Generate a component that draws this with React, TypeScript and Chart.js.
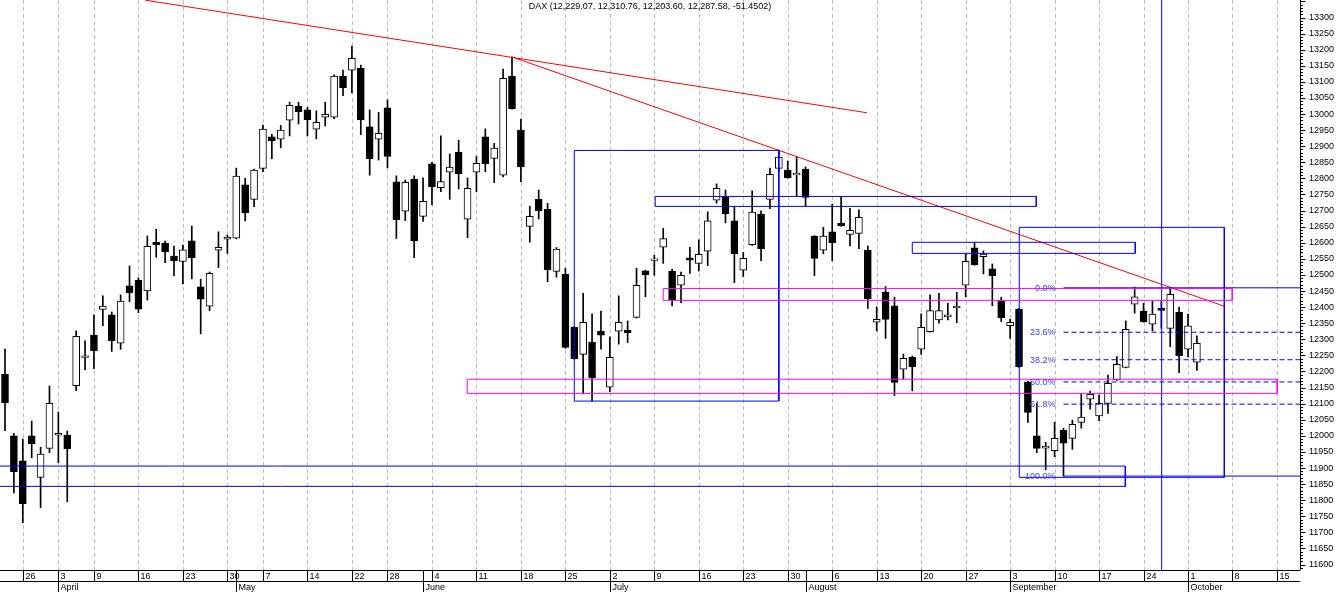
import React, { useEffect, useRef } from 'react';
import { Chart, registerables } from 'chart.js';

Chart.register(...registerables);

const titleText = 'DAX (12,229.07, 12,310.76, 12,203.60, 12,287.58, -51.4502)';

// Daily candles, trading days from 22 March 2018 (index 0) to 2 October 2018 (index 134)
const opens = [
  12191, 12000, 11922, 12000, 11871, 11961, 12002, 12002, 12156, 12244,
  12313, 12393, 12376, 12288, 12466, 12484, 12450, 12601, 12599, 12559,
  12542, 12606, 12463, 12403, 12577, 12611, 12614, 12780, 12735, 12831,
  12929, 12922, 12981, 13025, 13013, 12953, 12990, 12990, 13117, 13136,
  13142, 12960, 12922, 13019, 12789, 12698, 12797, 12682, 12845, 12771,
  12819, 12882, 12673, 12819, 12929, 12862, 12810, 13118, 12950, 12651,
  12735, 12704, 12511, 12502, 12338, 12253, 12291, 12325, 12151, 12325,
  12329, 12368, 12513, 12545, 12586, 12512, 12468, 12553, 12536, 12574,
  12732, 12743, 12668, 12515, 12594, 12689, 12735, 12831, 12826, 12811,
  12829, 12621, 12577, 12634, 12661, 12626, 12629, 12577, 12353, 12447,
  12404, 12207, 12244, 12269, 12324, 12360, 12370, 12398, 12468, 12584,
  12557, 12519, 12420, 12342, 12394, 12166, 12000, 11962, 11954, 12018,
  11992, 12042, 12114, 12062, 12101, 12174, 12213, 12409, 12388, 12347,
  12396, 12334, 12384, 12269, 12229.07,
];
const highs = [
  12270, 12008, 11990, 12046, 11965, 12155, 12074, 12015, 12326, 12295,
  12376, 12435, 12385, 12438, 12528, 12491, 12621, 12642, 12605, 12590,
  12593, 12652, 12487, 12509, 12634, 12624, 12832, 12800, 12829, 12966,
  12937, 12965, 13037, 13037, 13021, 13010, 13037, 13122, 13137, 13211,
  13152, 13013, 13005, 13044, 12808, 12795, 12808, 12802, 12850, 12932,
  12876, 12919, 12801, 12868, 12954, 12909, 13140, 13178, 12984, 12714,
  12764, 12723, 12585, 12521, 12340, 12443, 12379, 12388, 12308, 12435,
  12357, 12521, 12515, 12561, 12645, 12518, 12509, 12586, 12609, 12696,
  12783, 12764, 12712, 12570, 12761, 12699, 12832, 12888, 12854, 12868,
  12836, 12622, 12648, 12720, 12743, 12707, 12702, 12590, 12401, 12464,
  12431, 12254, 12248, 12379, 12438, 12443, 12412, 12446, 12565, 12600,
  12575, 12534, 12431, 12362, 12396, 12170, 12101, 11980, 12042, 12024,
  12049, 12132, 12139, 12127, 12189, 12246, 12357, 12462, 12412, 12419,
  12420, 12460, 12400, 12378, 12310.76,
];
const lows = [
  12016, 11823, 11730, 11932, 11777, 11948, 11917, 11795, 12140, 12206,
  12209, 12342, 12262, 12269, 12417, 12383, 12422, 12555, 12538, 12498,
  12472, 12488, 12317, 12389, 12523, 12567, 12612, 12668, 12712, 12821,
  12861, 12895, 12932, 12969, 12932, 12923, 12963, 12986, 13057, 13066,
  12936, 12810, 12857, 12833, 12613, 12669, 12554, 12666, 12718, 12759,
  12735, 12767, 12616, 12759, 12821, 12787, 12805, 13015, 12790, 12602,
  12674, 12479, 12493, 12272, 12238, 12130, 12108, 12269, 12137, 12285,
  12290, 12366, 12432, 12499, 12536, 12404, 12414, 12505, 12512, 12529,
  12723, 12662, 12476, 12495, 12592, 12544, 12706, 12821, 12800, 12745,
  12714, 12498, 12566, 12544, 12651, 12590, 12582, 12396, 12326, 12303,
  12125, 12176, 12140, 12253, 12322, 12350, 12360, 12352, 12432, 12530,
  12503, 12404, 12355, 12303, 12213, 12042, 11948, 11894, 11935, 11875,
  11958, 12024, 12083, 12047, 12070, 12172, 12211, 12381, 12353, 12326,
  12334, 12277, 12196, 12246, 12203.6,
];
const closes = [
  12103, 11889, 11789, 11976, 11943, 12101, 12008, 11960, 12309, 12249,
  12265, 12403, 12296, 12419, 12445, 12394, 12589, 12594, 12572, 12544,
  12578, 12554, 12425, 12505, 12586, 12618, 12807, 12693, 12826, 12953,
  12917, 12950, 13027, 13007, 12982, 12974, 12999, 13118, 13082, 13173,
  12982, 12861, 12940, 12868, 12672, 12788, 12606, 12729, 12774, 12790,
  12835, 12815, 12769, 12847, 12846, 12894, 13111, 13017, 12836, 12682,
  12700, 12516, 12580, 12275, 12240, 12353, 12181, 12313, 12244, 12353,
  12321, 12468, 12501, 12550, 12613, 12422, 12499, 12546, 12564, 12668,
  12769, 12690, 12566, 12552, 12695, 12582, 12813, 12866, 12802, 12816,
  12741, 12551, 12621, 12600, 12653, 12639, 12679, 12426, 12362, 12362,
  12166, 12241, 12215, 12337, 12389, 12389, 12376, 12403, 12542, 12532,
  12565, 12498, 12367, 12353, 12215, 12073, 11961, 11968, 11992, 11977,
  12036, 12058, 12129, 12101, 12163, 12222, 12331, 12432, 12355, 12378,
  12390, 12440, 12249, 12342, 12287.58,
];

// Axis labels
const weekTickIndex = [2, 6, 10, 15, 20, 25, 29, 34, 39, 43, 48, 53, 58, 63, 68, 73, 78, 83, 88, 93, 98, 103, 108, 113, 118, 123, 128, 133, 138, 143];
const weekTickLabels = ['26', '3', '9', '16', '23', '30', '7', '14', '22', '28', '4', '11', '18', '25', '2', '9', '16', '23', '30', '6', '13', '20', '27', '3', '10', '17', '24', '1', '8', '15'];
const monthStartIndex = [6, 26, 47, 68, 90, 113, 133];
const monthLabels = ['April', 'May', 'June', 'July', 'August', 'September', 'October'];
const yTickValues = [
  11600, 11650, 11700, 11750, 11800, 11850, 11900, 11950, 12000, 12050, 12100, 12150,
  12200, 12250, 12300, 12350, 12400, 12450, 12500, 12550, 12600, 12650, 12700, 12750,
  12800, 12850, 12900, 12950, 13000, 13050, 13100, 13150, 13200, 13250, 13300,
];

// Drawing objects (index, price)
const redLine1 = [[15.74, 13354], [96.9, 13004]];
const redLine2 = [[57.15, 13176], [137.05, 12403]];
const blueBoxesX0 = [64, 73.1, 102, 114.03, -3];
const blueBoxesX1 = [87, 115.94, 127.07, 137.08, 125.95];
const blueBoxesLo = [12108, 12713, 12567, 11871, 11843];
const blueBoxesHi = [12887, 12744, 12601.5, 12648, 11906];
const magentaBoxesX0 = [74, 51.97];
const magentaBoxesX1 = [137.97, 143.03];
const magentaBoxesLo = [12421, 12132];
const magentaBoxesHi = [12458, 12176];
const cursorIndex = 130.04;
const fibStartIndex = 119;
const fibEndIndex = 160;
const fibHigh = 12460;
const fibLow = 11875;
const fibRatios = [0, 0.236, 0.382, 0.5, 0.618, 1];
const fibLabels = ['0.0%', '23.6%', '38.2%', '50.0%', '61.8%', '100.0%'];

const FONT = "'Liberation Sans', Arial, sans-serif";

function boxData(x0: number, x1: number, lo: number, hi: number) {
  return [
    { x: x0, y: lo },
    { x: x0, y: hi },
    { x: x1, y: hi },
    { x: x1, y: lo },
    { x: x0, y: lo },
  ];
}

function lineDs(data: any[], color: string, dash: number[] = []) {
  return {
    type: 'line' as const,
    data,
    borderColor: color,
    borderWidth: 1,
    borderDash: dash,
    pointRadius: 0,
    fill: false,
    tension: 0,
    order: 0,
  };
}

const decorPlugin = {
  id: 'decor',
  beforeDatasetsDraw(chart: any) {
    const { ctx, chartArea, scales } = chart;
    const xs = scales.x;
    ctx.save();
    ctx.strokeStyle = '#bdbdbd';
    ctx.lineWidth = 1;
    ctx.setLineDash([4, 3]);
    weekTickIndex.forEach((i) => {
      const x = Math.round(xs.getPixelForValue(i)) + 0.5;
      ctx.beginPath();
      ctx.moveTo(x, chartArea.top);
      ctx.lineTo(x, chartArea.bottom);
      ctx.stroke();
    });
    ctx.restore();
  },
  afterDatasetsDraw(chart: any) {
    const { ctx, chartArea, scales } = chart;
    const xs = scales.x;
    const ys = scales.y;
    ctx.save();
    // fib labels
    ctx.font = `9px ${FONT}`;
    ctx.fillStyle = '#3c3cff';
    ctx.textAlign = 'right';
    ctx.textBaseline = 'middle';
    const fx = xs.getPixelForValue(fibStartIndex) - 8;
    fibRatios.forEach((r, k) => {
      const v = fibHigh - r * (fibHigh - fibLow);
      ctx.fillText(fibLabels[k], fx, ys.getPixelForValue(v) + 0.5);
    });
    // title
    ctx.fillStyle = '#000';
    ctx.textAlign = 'center';
    ctx.fillText(titleText, (chartArea.left + chartArea.right) / 2, 7);
    ctx.restore();
  },
  afterDraw(chart: any) {
    const { ctx, chartArea, scales } = chart;
    const xs = scales.x;
    const ys = scales.y;
    const bottom = chartArea.bottom;
    const right = chartArea.right;
    ctx.save();
    ctx.strokeStyle = '#000';
    ctx.lineWidth = 1;
    // x axis rows
    ctx.beginPath();
    ctx.moveTo(0, bottom + 0.5);
    ctx.lineTo(right, bottom + 0.5);
    ctx.moveTo(0, bottom + 11.5);
    ctx.lineTo(right, bottom + 11.5);
    ctx.stroke();
    ctx.font = `9px ${FONT}`;
    ctx.fillStyle = '#000';
    ctx.textAlign = 'left';
    ctx.textBaseline = 'middle';
    weekTickIndex.forEach((i, k) => {
      const x = Math.round(xs.getPixelForValue(i)) + 0.5;
      ctx.beginPath();
      ctx.moveTo(x, bottom);
      ctx.lineTo(x, bottom + 11);
      ctx.stroke();
      ctx.fillText(weekTickLabels[k], x + 2, bottom + 6.5);
    });
    monthStartIndex.forEach((i, k) => {
      const x = Math.round(xs.getPixelForValue(i)) + 0.5;
      ctx.beginPath();
      ctx.moveTo(x, bottom);
      ctx.lineTo(x, bottom + 22);
      ctx.stroke();
      ctx.fillText(monthLabels[k], x + 2, bottom + 17.5);
    });
    // y axis line and ticks
    const ax = Math.round(right) + 0.5;
    ctx.beginPath();
    ctx.moveTo(ax, chartArea.top);
    ctx.lineTo(ax, bottom);
    ctx.stroke();
    ctx.beginPath();
    for (let v = 11590; v <= 13350; v += 10) {
      const y = Math.round(ys.getPixelForValue(v)) + 0.5;
      const len = v % 50 === 0 ? 5 : 2.5;
      ctx.moveTo(ax, y);
      ctx.lineTo(ax + len, y);
    }
    ctx.stroke();
    ctx.restore();
  },
};

export default function App() {
  const ref = useRef<HTMLCanvasElement>(null);
  useEffect(() => {
    document.body.style.margin = '0';
    const bodies = opens.map((o, i) => ({ x: i, y: [o, closes[i]] }));
    const wicks = lows.map((l, i) => ({ x: i, y: [l, highs[i]] }));
    const bodyColors = opens.map((o, i) => (closes[i] >= o ? '#ffffff' : '#000000'));

    const datasets: any[] = [
      {
        type: 'bar',
        data: wicks,
        backgroundColor: '#000',
        borderWidth: 0,
        barThickness: 1,
        grouped: false,
        order: 2,
      },
      {
        type: 'bar',
        data: bodies,
        backgroundColor: bodyColors,
        borderColor: '#000',
        borderWidth: 1,
        borderSkipped: false,
        barThickness: 7,
        grouped: false,
        minBarLength: 1,
        order: 1,
      },
    ];
    magentaBoxesX0.forEach((x0, k) => {
      datasets.push(lineDs(boxData(x0, magentaBoxesX1[k], magentaBoxesLo[k], magentaBoxesHi[k]), '#ff00ff'));
    });
    blueBoxesX0.forEach((x0, k) => {
      datasets.push(lineDs(boxData(x0, blueBoxesX1[k], blueBoxesLo[k], blueBoxesHi[k]), '#0000ff'));
    });
    fibRatios.forEach((r) => {
      const v = fibHigh - r * (fibHigh - fibLow);
      const solid = r === 0 || r === 1;
      datasets.push(lineDs([{ x: fibStartIndex, y: v }, { x: fibEndIndex, y: v }], '#0000ff', solid ? [] : [5, 3]));
    });
    datasets.push(lineDs([{ x: cursorIndex, y: 11000 }, { x: cursorIndex, y: 14000 }], '#0000ff'));
    datasets.push(lineDs(redLine1.map(([x, y]) => ({ x, y })), '#ff0000'));
    datasets.push(lineDs(redLine2.map(([x, y]) => ({ x, y })), '#ff0000'));

    const chart = new Chart(ref.current as HTMLCanvasElement, {
      type: 'bar',
      data: { datasets },
      options: {
        responsive: false,
        animation: false,
        events: [],
        layout: { padding: { left: 0, top: 0, right: 0, bottom: 22 } },
        plugins: { legend: { display: false }, tooltip: { enabled: false } },
        scales: {
          x: {
            type: 'linear',
            min: -0.562,
            max: 145.59,
            display: false,
            offset: false,
          },
          y: {
            type: 'linear',
            position: 'right',
            min: 11583.1,
            max: 13354.4,
            grid: { display: false, drawTicks: false },
            border: { display: false },
            ticks: {
              autoSkip: false,
              padding: 9,
              color: '#000',
              font: { family: FONT, size: 9 },
              callback: (v: any) => String(v),
            },
            afterBuildTicks: (s: any) => {
              s.ticks = yTickValues.map((v) => ({ value: v }));
            },
            afterFit: (s: any) => {
              s.width = 36;
              s.paddingTop = 0;
              s.paddingBottom = 0;
            },
          },
        },
      } as any,
      plugins: [decorPlugin],
    });
    return () => chart.destroy();
  }, []);

  return (
    <div style={{ position: 'absolute', left: 0, top: 0, width: 1336, height: 592, background: '#fff' }}>
      <canvas ref={ref} width={1336} height={592} style={{ width: 1336, height: 592, display: 'block' }} />
    </div>
  );
}
